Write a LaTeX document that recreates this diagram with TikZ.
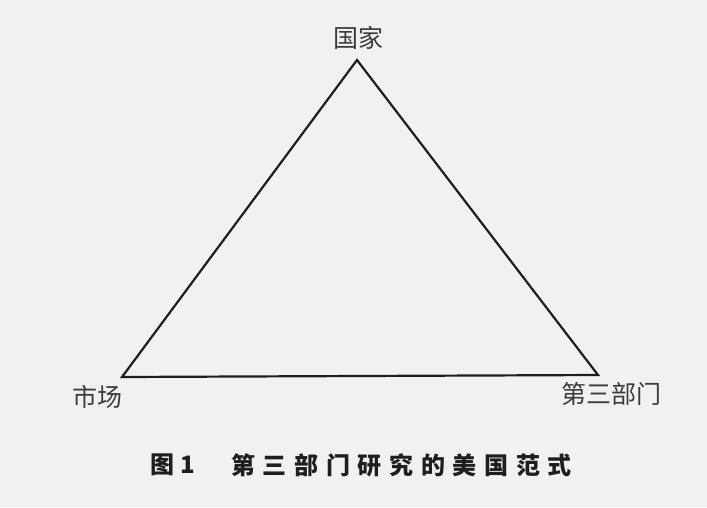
\documentclass[tikz,border=0pt]{standalone}
\usepackage{fontspec}
\newfontfamily\cjk{Noto Sans CJK SC}
\newfontfamily\cjkcap[LetterSpace=32]{Noto Sans CJK SC}
\definecolor{paper}{RGB}{241,242,239}
\definecolor{ink}{RGB}{30,30,30}
\definecolor{labelink}{RGB}{60,60,60}
\begin{document}
\begin{tikzpicture}[x=1pt,y=-1pt,
  lbl/.style={inner sep=0pt,font=\cjk\fontsize{25}{25}\selectfont,text=labelink},
  edge/.style={draw=ink,line width=2.2pt,line join=miter}]
\fill[paper] (0,0) rectangle (707,507);
\useasboundingbox (0,0) rectangle (707,507);
\coordinate (top) at (357,60);
\coordinate (left) at (122,377);
\coordinate (right) at (598,375);
\draw[edge] (top) -- (left) -- (right) -- cycle;
\node[lbl] (guojia) at (358,38) {国家};
\node[lbl] (shichang) at (97,397) {市场};
\node[lbl] (disan) at (611,394) {第三部门};
\node[inner sep=0pt,anchor=west,text=ink,font=\cjk\bfseries\fontsize{24}{24}\selectfont] (fig) at (150,465) {图\hspace{6pt}1};
\node[inner sep=0pt,anchor=west,text=ink,font=\cjkcap\bfseries\fontsize{24}{24}\selectfont] (cap) at (231,465) {第三部门研究的美国范式};
\end{tikzpicture}
\end{document}
